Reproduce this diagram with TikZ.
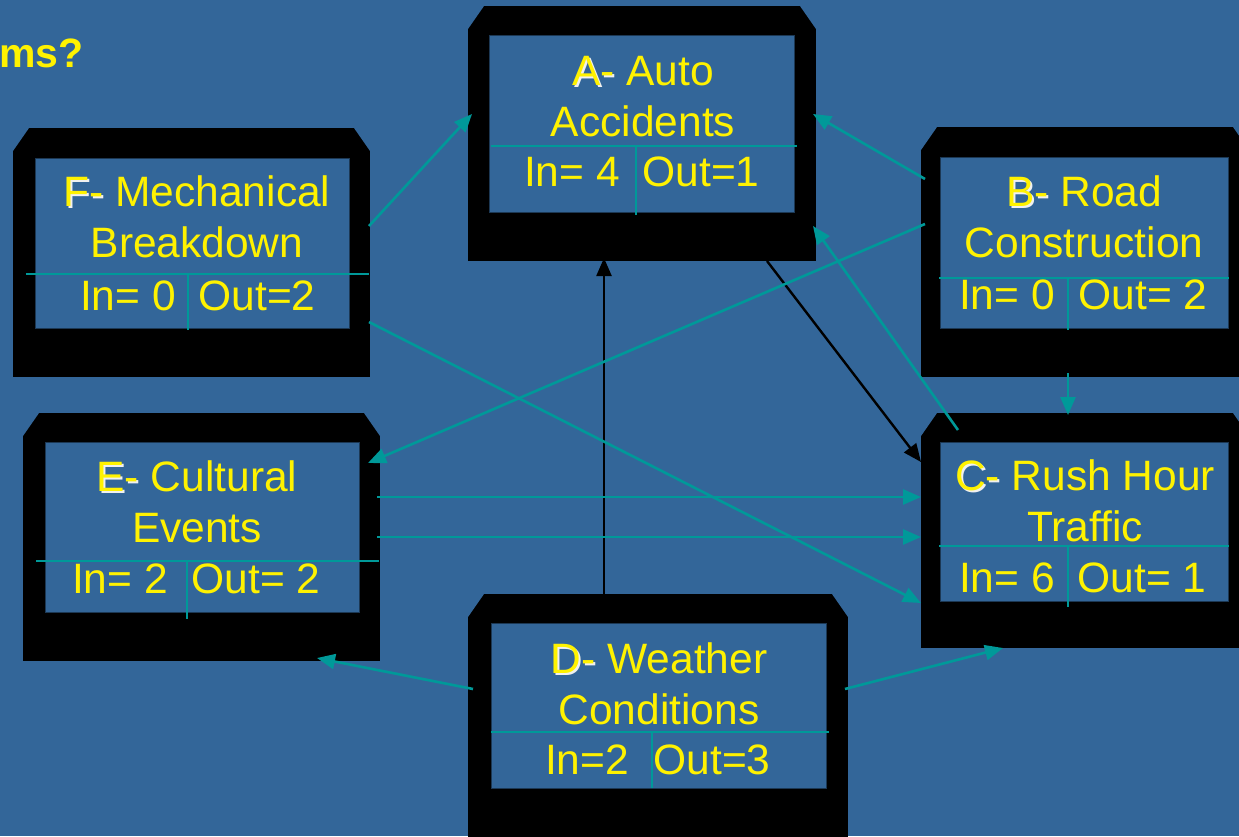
\documentclass[tikz,border=0pt]{standalone}
\usepackage{fontspec}
\setmainfont{Liberation Sans}
\usetikzlibrary{positioning,calc,arrows.meta}

\definecolor{bgblue}{RGB}{51,102,153}
\definecolor{linkteal}{RGB}{0,153,153}

% letter with a light raised shadow behind it
\newcommand{\embossed}[1]{\makebox[0pt][l]{\kern2pt\raisebox{-2pt}{\color{white!88!gray}#1}}#1}

\tikzset{
  unit/.style={rectangle, fill=black, inner sep=0pt, outer sep=0pt,
    path picture={
      \fill[bgblue] (path picture bounding box.north west) -- ++(16pt,0pt) -- ++(-16pt,-23pt) -- cycle;
      \fill[bgblue] (path picture bounding box.north east) -- ++(-16pt,0pt) -- ++(16pt,-23pt) -- cycle;
    }},
  screen/.style={rectangle, fill=bgblue, draw=bgblue!55!black, line width=0.8pt,
    inner sep=0pt, outer sep=0pt},
  title/.style={text=yellow, font=\fontsize{42.5}{51}\selectfont, align=center,
    anchor=base, inner sep=0pt},
  count/.style={text=yellow, font=\fontsize{42.5}{50}\selectfont, anchor=base, inner sep=0pt},
  rule/.style={linkteal, line width=1.8pt},
  link/.style={linkteal, line width=2.6pt, -{Triangle[length=18pt,width=15pt]}},
  flow/.style={black, line width=2.4pt, -{Triangle[length=18pt,width=15pt]}}
}

\begin{document}
\begin{tikzpicture}[x=1pt,y=-1pt]
  \useasboundingbox (0,0) rectangle (1239,836);
  \clip (0,0) rectangle (1239,836);
  \fill[bgblue] (0,0) rectangle (1239,836);

  \node[text=yellow, font=\bfseries\fontsize{41}{50}\selectfont, anchor=base east,
    inner sep=0pt] (heading) at (84,67) {ms?};

  % the six units
  \node[unit, minimum width=348, minimum height=255] (a) at (642,133.5) {};
  \node[unit, minimum width=328, minimum height=250] (b) at (1085,252) {};
  \node[unit, minimum width=328, minimum height=235] (c) at (1085,530.5) {};
  \node[unit, minimum width=380, minimum height=256] (d) at (658,722) {};
  \node[unit, minimum width=357, minimum height=248] (e) at (201.5,537) {};
  \node[unit, minimum width=357, minimum height=249] (f) at (191.5,252.5) {};

  \node[screen, minimum width=305, minimum height=177] (a-screen) at (641.5,123.5) {};
  \node[screen, minimum width=288, minimum height=171] (b-screen) at (1084,242.5) {};
  \node[screen, minimum width=288, minimum height=159] (c-screen) at (1084,521.5) {};
  \node[screen, minimum width=335, minimum height=165] (d-screen) at (658.5,705.5) {};
  \node[screen, minimum width=314, minimum height=170] (e-screen) at (202,527) {};
  \node[screen, minimum width=314, minimum height=170] (f-screen) at (192,243) {};

  % table rules
  \draw[rule] (491,146) -- (797,146) (636,146) -- (636,215);
  \draw[rule] (939,278) -- (1229,278) (1068,278) -- (1068,330);
  \draw[rule] (939,546) -- (1229,546) (1068,546) -- (1068,607);
  \draw[rule] (491,732) -- (829,732) (652,732) -- (652,788);
  \draw[rule] (36,561) -- (379,561) (187,561) -- (187,619);
  \draw[rule] (26,274) -- (369,274) (188,274) -- (188,330);

  % names and counts (name nodes sit on the baseline of their last line)
  \node[title] (a-name) at (643,136) {\embossed{A-} Auto\\Accidents};
  \node[count] (a-in) at (572,186) {In= 4};
  \node[count] (a-out) at (701,186) {Out=1};

  \node[title] (b-name) at (1084,257) {\embossed{B-} Road\\Construction};
  \node[count] (b-in) at (1007,309) {In= 0};
  \node[count] (b-out) at (1143,309) {Out= 2};

  \node[title] (c-name) at (1085,541) {\embossed{C-} Rush Hour\\Traffic};
  \node[count] (c-in) at (1007,592) {In= 6};
  \node[count] (c-out) at (1142,592) {Out= 1};

  \node[title] (d-name) at (659,724) {\embossed{D-} Weather\\Conditions};
  \node[count] (d-in) at (587,774) {In=2};
  \node[count] (d-out) at (712,774) {Out=3};

  \node[title] (e-name) at (197,542) {\embossed{E-} Cultural\\Events};
  \node[count] (e-in) at (120,593) {In= 2};
  \node[count] (e-out) at (256,593) {Out= 2};

  \node[title] (f-name) at (197,257) {\embossed{F-} Mechanical\\Breakdown};
  \node[count] (f-in) at (128,310) {In= 0};
  \node[count] (f-out) at (257,310) {Out=2};

  % links
  \draw[link] ($(f.north east)+(-1,98)$) -- ($(a.north west)+(4,108)$);
  \draw[link] ($(b.north west)+(4,52)$) -- ($(a.north east)+(-3,108)$);
  \draw[link] ($(c.north west)+(37,17)$) -- ($(a.north east)+(-3,220)$);
  \draw[flow] ($(a.south)+(125,0)$) -- ($(c.north west)+(0,49)$);
  \draw[flow] ($(d.north)+(-54,0)$) -- ($(a.south)+(-38,-3)$);
  \draw[link] ($(b.north west)+(4,97)$) -- ($(e.north east)+(-12,50)$);
  \draw[link] ($(b.south)+(-17,-4)$) -- ($(c.north)+(-17,2)$);
  \draw[link] ($(f.north east)+(-1,194)$) -- ($(c.north west)+(0,190)$);
  \draw[link] ($(e.north east)+(-3,84)$) -- ($(c.north west)+(0,84)$);
  \draw[link] ($(e.north east)+(-3,124)$) -- ($(c.north west)+(0,124)$);
  \draw[link] ($(d.north west)+(5,95)$) -- ($(e.south east)+(-63,-3)$);
  \draw[link] ($(d.north east)+(-3,95)$) -- ($(c.south west)+(82,0)$);
\end{tikzpicture}
\end{document}
